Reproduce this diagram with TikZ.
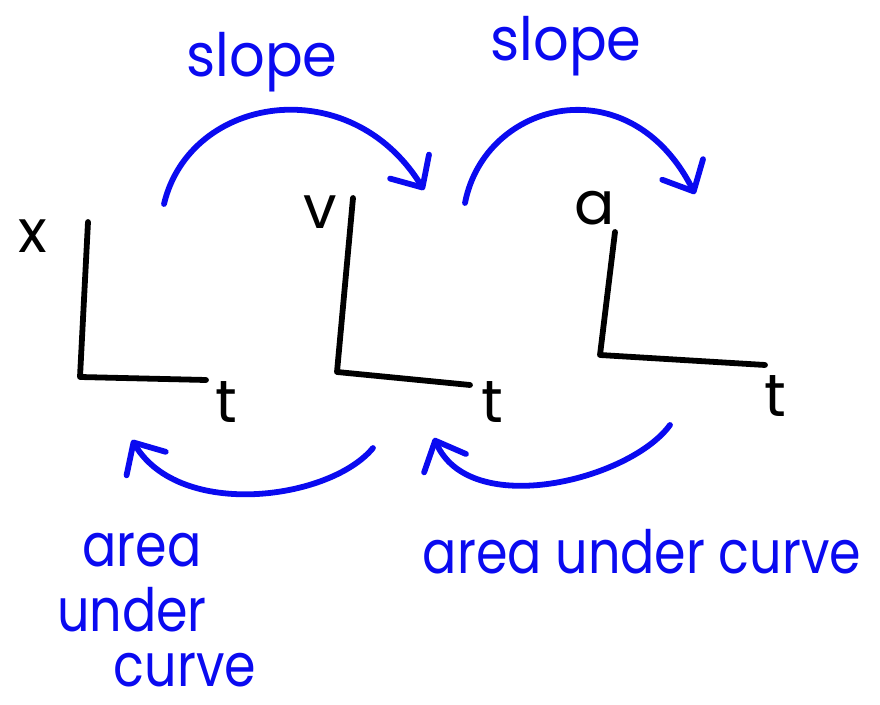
\documentclass[tikz,border=0pt]{standalone}
\usepackage{fontspec}
\setmainfont{Poppins}
\usetikzlibrary{arrows.meta}
\definecolor{pen}{RGB}{10,10,240}
\tikzset{
  ink/.style={line width=3.3pt, line cap=round, line join=round},
  axis/.style={ink, draw=black},
  flow/.style={ink, draw=pen, -{Straight Barb[length=14pt, width=26pt, round, line width=3.3pt]}},
  bluetext/.style={text=pen, font=\fontsize{34}{30}\selectfont, inner sep=0pt, transform shape, xscale=0.85},
  slopetext/.style={bluetext, xscale=1.1},
  vartext/.style={text=black, font=\fontsize{34}{34}\selectfont, inner sep=0pt},
}
\begin{document}
\begin{tikzpicture}[x=0.02cm, y=-0.02cm]
\useasboundingbox (0,0) rectangle (880,705);

% x(t) axes
\coordinate (xtop) at (88,222);
\coordinate (xo) at (80,377);
\coordinate (xend) at (206,380);
\draw[axis] (xtop) -- (xo) -- (xend);
\node[vartext] (xlab) at (33,236) {x};
\node[vartext] (t1) at (226,402) {t};

% v(t) axes
\coordinate (vtop) at (353,198);
\coordinate (vo) at (337,372);
\coordinate (vend) at (470,385);
\draw[axis] (vtop) -- (vo) -- (vend);
\node[vartext] (vlab) at (320,212) {v};
\node[vartext] (t2) at (492,402) {t};

% a(t) axes
\coordinate (atop) at (615,232);
\coordinate (ao) at (600,355);
\coordinate (aend) at (765,365);
\draw[axis] (atop) -- (ao) -- (aend);
\node[vartext] (alab) at (595,208) {a};
\node[vartext] (t3) at (775,396) {t};

% slope: x -> v -> a
\coordinate (s1a) at (164,204);
\coordinate (s1b) at (424,190);
\draw[flow] (s1a) .. controls (190,95) and (350,70) .. (s1b);
\node[slopetext] (slope1) at (262,62) {slope};

\coordinate (s2a) at (465,203);
\coordinate (s2b) at (695,194);
\draw[flow] (s2a) .. controls (485,100) and (630,65) .. (s2b);
\node[slopetext] (slope2) at (566,46) {slope};

% area under curve: a -> v -> x
\coordinate (r1a) at (373,448);
\coordinate (r1b) at (132,440);
\draw[flow] (r1a) .. controls (330,500) and (180,520) .. (r1b);
\node[bluetext] (area1) at (142,550) {area};
\node[bluetext] (under1) at (132,610) {under};
\node[bluetext] (curve1) at (185,670) {curve};

\coordinate (r2a) at (670,425);
\coordinate (r2b) at (434,438);
\draw[flow] (r2a) .. controls (630,480) and (470,520) .. (r2b);
\node[bluetext] (area2) at (642,552) {area under curve};
\end{tikzpicture}
\end{document}
